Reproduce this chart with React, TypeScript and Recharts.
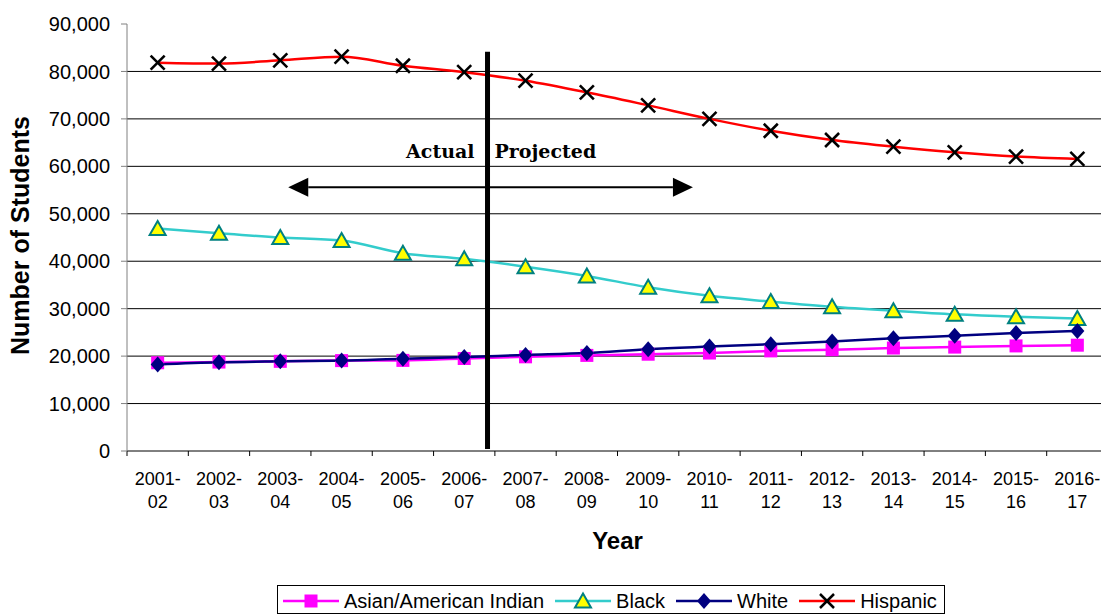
import React from 'react';
import { LineChart, Line, XAxis, YAxis, CartesianGrid, ReferenceLine } from 'recharts';

const years = [
  '2001-02', '2002-03', '2003-04', '2004-05', '2005-06', '2006-07', '2007-08', '2008-09',
  '2009-10', '2010-11', '2011-12', '2012-13', '2013-14', '2014-15', '2015-16', '2016-17',
];

const asianIndian = [18600, 18750, 18900, 19050, 19100, 19500, 19850, 20150, 20400, 20650, 21100, 21350, 21700, 21900, 22150, 22300];
const black = [46900, 45900, 45000, 44350, 41700, 40500, 38850, 36900, 34500, 32700, 31500, 30400, 29550, 28800, 28300, 27950];
const white = [18250, 18700, 18900, 19050, 19450, 19800, 20250, 20650, 21450, 22000, 22500, 23100, 23750, 24300, 24850, 25300];
const hispanic = [81850, 81650, 82350, 83100, 81200, 79850, 78050, 75600, 72850, 70000, 67500, 65550, 64150, 62950, 62050, 61550];

const yTicks = [0, 10000, 20000, 30000, 40000, 50000, 60000, 70000, 80000, 90000];
const gridValues = yTicks.slice(1, -1);

// x runs over year slots: slot i spans [i, i+1], points sit in the middle
const xTicks = years.map((_, i) => i).concat(years.length);

// annotation positions, in chart units
const splitAt = 5.88;
const splitTop = 84150;
const splitBottom = 420;
const arrowFrom = 2.63;
const arrowTo = 9.23;
const arrowLevel = 55600;

const data = years.map((year, i) => ({
  pos: i + 0.5,
  year,
  asian: asianIndian[i],
  black: black[i],
  white: white[i],
  hispanic: hispanic[i],
}));

const series = [
  { key: 'asian', name: 'Asian/American Indian', color: '#FF00FF', marker: 'square' },
  { key: 'black', name: 'Black', color: '#33CCCC', marker: 'triangle' },
  { key: 'white', name: 'White', color: '#000080', marker: 'diamond' },
  { key: 'hispanic', name: 'Hispanic', color: '#FF0000', marker: 'cross' },
];

const FONT = '"Liberation Sans", Arial, sans-serif';
const CHART_W = 1110;
const CHART_H = 614;
const PLOT_LEFT = 127;
const PLOT_RIGHT = 1108;
const BAND = (PLOT_RIGHT - PLOT_LEFT) / years.length;

function marker(kind: string, cx: number, cy: number, key?: string | number) {
  switch (kind) {
    case 'square':
      return <rect key={key} x={cx - 6.5} y={cy - 6.5} width={13} height={13} fill="#FF00FF" />;
    case 'triangle':
      return (
        <polygon
          key={key}
          points={`${cx},${cy - 7.5} ${cx + 8},${cy + 6.5} ${cx - 8},${cy + 6.5}`}
          fill="#FFFF00"
          stroke="#008080"
          strokeWidth={2}
        />
      );
    case 'diamond':
      return (
        <polygon
          key={key}
          points={`${cx},${cy - 8} ${cx + 7},${cy} ${cx},${cy + 8} ${cx - 7},${cy}`}
          fill="#000080"
        />
      );
    default:
      return (
        <g key={key} stroke="#000" strokeWidth={2.5}>
          <line x1={cx - 7} y1={cy - 7} x2={cx + 7} y2={cy + 7} />
          <line x1={cx - 7} y1={cy + 7} x2={cx + 7} y2={cy - 7} />
        </g>
      );
  }
}

function YearTick({ x, y, payload }: any) {
  const label = years[payload.value];
  if (!label) return null;
  const [start, end] = label.split('-');
  const cx = x + BAND / 2;
  return (
    <g fontFamily={FONT} fontSize={18} fill="#000">
      <text x={cx} y={y + 26.5} textAnchor="middle">{start}-</text>
      <text x={cx} y={y + 50} textAnchor="middle">{end}</text>
    </g>
  );
}

function YearLabel(props: any) {
  const vb = props.viewBox ?? { x: PLOT_LEFT, y: 451, width: PLOT_RIGHT - PLOT_LEFT };
  return (
    <text x={vb.x + vb.width / 2} y={vb.y + 98} textAnchor="middle" fontFamily={FONT} fontSize={24} fontWeight="bold" fill="#000">
      Year
    </text>
  );
}

function StudentsLabel(props: any) {
  const vb = props.viewBox ?? { x: 0, y: 24, width: PLOT_LEFT, height: 427 };
  const cx = vb.x + 29;
  const cy = vb.y + vb.height / 2 - 2;
  return (
    <text
      x={cx}
      y={cy}
      transform={`rotate(-90 ${cx} ${cy})`}
      textAnchor="middle"
      fontFamily={FONT}
      fontSize={25}
      fontWeight="bold"
      fill="#000"
    >
      Number of Students
    </text>
  );
}

// thick divider between actual and projected years, with its captions
function Divider(p: any) {
  const top = Math.min(p.y1, p.y2);
  const serif = '"DejaVu Serif", "Liberation Serif", serif';
  return (
    <g>
      <line x1={p.x1} y1={p.y1} x2={p.x2} y2={p.y2} stroke="#000" strokeWidth={5} />
      <text x={p.x1 - 13} y={top + 106.5} textAnchor="end" fontFamily={serif} fontWeight="bold" fontSize={19} fill="#000">
        Actual
      </text>
      <text x={p.x1 + 7} y={top + 106.5} fontFamily={serif} fontWeight="bold" fontSize={19} fill="#000">
        Projected
      </text>
    </g>
  );
}

function DoubleArrow(p: any) {
  const y = p.y1;
  const a = Math.min(p.x1, p.x2);
  const b = Math.max(p.x1, p.x2);
  const head = 20;
  const half = 9.5;
  return (
    <g>
      <line x1={a + head} y1={y} x2={b - head} y2={y} stroke="#000" strokeWidth={2} />
      <polygon points={`${a},${y} ${a + head},${y - half} ${a + head},${y + half}`} fill="#000" />
      <polygon points={`${b},${y} ${b - head},${y - half} ${b - head},${y + half}`} fill="#000" />
    </g>
  );
}

function LegendBox() {
  return (
    <div
      style={{
        position: 'absolute',
        left: 277,
        top: 585,
        width: 668,
        height: 29,
        boxSizing: 'border-box',
        border: '1px solid #000',
        display: 'flex',
        alignItems: 'center',
        paddingLeft: 5,
        paddingTop: 3,
        fontFamily: FONT,
        fontSize: 20,
        color: '#000',
        whiteSpace: 'nowrap',
      }}
    >
      {series.map((s) => (
        <div key={s.key} style={{ display: 'flex', alignItems: 'center', marginRight: 11 }}>
          <svg width={56} height={22} style={{ display: 'block' }}>
            <line x1={0} y1={11} x2={56} y2={11} stroke={s.color} strokeWidth={2.5} />
            {marker(s.marker, 28, 11)}
          </svg>
          <span style={{ marginLeft: 5 }}>{s.name}</span>
        </div>
      ))}
    </div>
  );
}

export default function App() {
  return (
    <div
      style={{
        position: 'absolute',
        left: 0,
        top: 0,
        width: 1101,
        height: 614,
        overflow: 'hidden',
        background: '#fff',
        fontFamily: FONT,
      }}
    >
      <LineChart width={CHART_W} height={CHART_H} data={data} margin={{ top: 24, right: CHART_W - PLOT_RIGHT, bottom: 0, left: 0 }}>
        <CartesianGrid vertical={false} stroke="#000" horizontalValues={gridValues} />
        <XAxis
          type="number"
          dataKey="pos"
          domain={[0, years.length]}
          ticks={xTicks}
          interval={0}
          height={163}
          tickSize={5}
          axisLine={{ stroke: '#000' }}
          tickLine={{ stroke: '#000' }}
          tick={<YearTick />}
          label={<YearLabel />}
        />
        <YAxis
          type="number"
          domain={[0, 90000]}
          ticks={yTicks}
          width={PLOT_LEFT}
          tickSize={6}
          tickMargin={11}
          axisLine={{ stroke: '#808080' }}
          tickLine={{ stroke: '#808080' }}
          tick={{ fill: '#000', fontSize: 20, fontFamily: FONT }}
          tickFormatter={(v: number) => v.toLocaleString('en-US')}
          label={<StudentsLabel />}
        />
        {series.map((s) => (
          <Line
            key={s.key}
            type="monotone"
            dataKey={s.key}
            name={s.name}
            stroke={s.color}
            strokeWidth={2.5}
            dot={(props: any) => marker(s.marker, props.cx, props.cy, `${s.key}-${props.index}`)}
            activeDot={false}
            isAnimationActive={false}
          />
        ))}
        <ReferenceLine
          segment={[{ x: arrowFrom, y: arrowLevel }, { x: arrowTo, y: arrowLevel }]}
          shape={<DoubleArrow />}
        />
        <ReferenceLine
          segment={[{ x: splitAt, y: splitTop }, { x: splitAt, y: splitBottom }]}
          shape={<Divider />}
        />
      </LineChart>
      <LegendBox />
    </div>
  );
}
